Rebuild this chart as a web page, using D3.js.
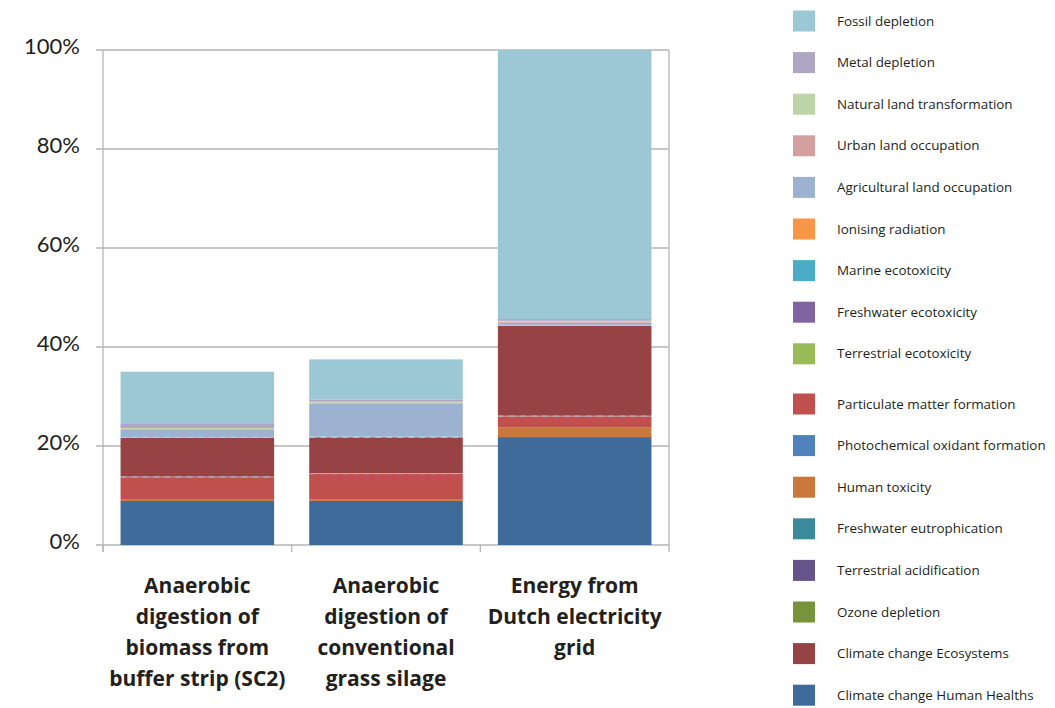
<!DOCTYPE html>
<html>
<head>
<meta charset="utf-8">
<script src="https://cdn.jsdelivr.net/npm/d3@7"></script>
<style>
  html, body { margin: 0; padding: 0; background: #fff; }
  svg { display: block; }
  text { fill: #231f20; }
</style>
</head>
<body>
<svg id="chart" width="1055" height="708"></svg>
<script>
// Scenario categories (multi-line labels)
const categories = [
  ["Anaerobic", "digestion of", "biomass from", "buffer strip (SC2)"],
  ["Anaerobic", "digestion of", "conventional", "grass silage"],
  ["Energy from", "Dutch electricity", "grid"]
];

// Share of total impact (%) per impact category, one value per scenario
const fossilDepletion        = [10.4, 8.1, 54.35];
const metalDepletion         = [0.95, 0.45, 0.35];
const naturalLandTransf      = [0.2, 0.2, 0.2];
const urbanLandOcc           = [0.15, 0.2, 0.2];
const agriculturalLandOcc    = [1.5, 6.7, 0.5];
const ionisingRadiation      = [0, 0, 0];
const marineEcotox           = [0.1, 0.1, 0.1];
const freshwaterEcotox       = [0, 0, 0];
const terrestrialEcotox      = [0, 0, 0];
const particulateMatter      = [4.4, 5.2, 2.2];
const photochemOxidant       = [0, 0, 0];
const humanToxicity          = [0.4, 0.25, 2.0];
const freshwaterEutroph      = [0, 0, 0];
const terrestrialAcid        = [0.1, 0.1, 0.1];
const ozoneDepletion         = [0, 0, 0];
const ccEcosystems           = [7.9, 7.3, 18.2];
const ccHumanHealth          = [8.9, 8.9, 21.8];

const yTicks = [0, 20, 40, 60, 80, 100];

// Legend order (top to bottom)
const series = [
  { name: "Fossil depletion",                values: fossilDepletion,     color: "#9cc8d6" },
  { name: "Metal depletion",                 values: metalDepletion,      color: "#ada6c5" },
  { name: "Natural land transformation",     values: naturalLandTransf,   color: "#bcd4a7" },
  { name: "Urban land occupation",           values: urbanLandOcc,        color: "#d4a09f" },
  { name: "Agricultural land occupation",    values: agriculturalLandOcc, color: "#9db2d0" },
  { name: "Ionising radiation",              values: ionisingRadiation,   color: "#f79646" },
  { name: "Marine ecotoxicity",              values: marineEcotox,        color: "#4bacc6" },
  { name: "Freshwater ecotoxicity",          values: freshwaterEcotox,    color: "#8064a2" },
  { name: "Terrestrial ecotoxicity",         values: terrestrialEcotox,   color: "#9bbb59" },
  { name: "Particulate matter formation",    values: particulateMatter,   color: "#c0504d" },
  { name: "Photochemical oxidant formation", values: photochemOxidant,    color: "#4f81bd" },
  { name: "Human toxicity",                  values: humanToxicity,       color: "#c9793c" },
  { name: "Freshwater eutrophication",       values: freshwaterEutroph,   color: "#3a8a9c" },
  { name: "Terrestrial acidification",       values: terrestrialAcid,     color: "#64548a" },
  { name: "Ozone depletion",                 values: ozoneDepletion,      color: "#77933c" },
  { name: "Climate change Ecosystems",       values: ccEcosystems,        color: "#974345" },
  { name: "Climate change Human Healths",    values: ccHumanHealth,       color: "#3f6b9b" }
];

// Stacking order, bottom to top
const stackOrder = [
  "Climate change Human Healths", "Ozone depletion", "Freshwater eutrophication",
  "Human toxicity", "Photochemical oxidant formation", "Particulate matter formation",
  "Terrestrial acidification", "Climate change Ecosystems", "Marine ecotoxicity",
  "Freshwater ecotoxicity", "Terrestrial ecotoxicity", "Ionising radiation",
  "Agricultural land occupation", "Urban land occupation", "Natural land transformation",
  "Metal depletion", "Fossil depletion"
];

const svg = d3.select("#chart");
const plot = { left: 103, right: 669, top: 50, bottom: 545 };

const x = d3.scaleBand().domain(d3.range(categories.length))
  .range([plot.left, plot.right]).padding(0);
const barW = x.bandwidth() * 0.814;
const y = d3.scaleLinear().domain([0, 100]).range([plot.bottom, plot.top]);

const gridColor = "#b5b5b5";

// Horizontal grid lines with outer ticks
svg.append("g").selectAll("line").data(yTicks).join("line")
  .attr("x1", plot.left - 7).attr("x2", plot.right)
  .attr("y1", d => y(d)).attr("y2", d => y(d))
  .attr("stroke", gridColor).attr("stroke-width", 1.3);

// Y tick labels
svg.append("g").selectAll("text").data(yTicks).join("text")
  .attr("x", 80).attr("y", d => y(d) - 4)
  .attr("dy", "0.35em")
  .attr("text-anchor", "end")
  .style("font-family", "Lato, 'Open Sans', sans-serif")
  .style("font-size", "22px")
  .text(d => d + "%");

// Left axis line
svg.append("line").attr("x1", plot.left).attr("x2", plot.left)
  .attr("y1", plot.top).attr("y2", plot.bottom + 7)
  .attr("stroke", gridColor).attr("stroke-width", 1.3);
// Category boundary ticks (the last one also closes the frame on the right)
const bounds = d3.range(categories.length + 1).map(i => plot.left + i * x.step());
svg.append("g").selectAll("line").data(bounds).join("line")
  .attr("x1", d => d).attr("x2", d => d)
  .attr("y1", (d, i) => i === bounds.length - 1 ? plot.top : plot.bottom)
  .attr("y2", plot.bottom + 7)
  .attr("stroke", gridColor).attr("stroke-width", 1.3);

// Stacked bars
const byName = new Map(series.map(s => [s.name, s]));
const segs = [];
categories.forEach((c, i) => {
  let acc = 0;
  stackOrder.forEach(n => {
    const s = byName.get(n);
    const v = s.values[i];
    if (v > 0) segs.push({ i, y0: acc, y1: acc + v, v, color: s.color });
    acc += v;
  });
});

const bars = svg.append("g");
bars.selectAll("rect").data(segs.filter(d => d.v > 0.12)).join("rect")
  .attr("x", d => x(d.i) + (x.bandwidth() - barW) / 2)
  .attr("width", barW)
  .attr("y", d => y(d.y1))
  .attr("height", d => y(d.y0) - y(d.y1))
  .attr("fill", d => d.color);

// Hairline segments drawn as dashed lines
bars.selectAll("line.thin").data(segs.filter(d => d.v <= 0.12)).join("line")
  .attr("class", "thin")
  .attr("x1", d => x(d.i) + (x.bandwidth() - barW) / 2)
  .attr("x2", d => x(d.i) + (x.bandwidth() + barW) / 2)
  .attr("y1", d => y((d.y0 + d.y1) / 2)).attr("y2", d => y((d.y0 + d.y1) / 2))
  .attr("stroke", d => d3.interpolateRgb(d.color, "#ffffff")(0.5))
  .attr("stroke-width", 1.3)
  .attr("stroke-dasharray", "6,5");

// Category labels
const catG = svg.append("g");
categories.forEach((lines, i) => {
  const t = catG.append("text")
    .attr("text-anchor", "middle")
    .style("font-family", "'Open Sans', Lato, sans-serif")
    .style("font-size", "21px")
    .style("font-weight", "bold");
  lines.forEach((l, k) => {
    t.append("tspan").attr("x", x(i) + x.bandwidth() / 2)
      .attr("y", 593 + k * 31).text(l);
  });
});

// Legend
const legend = svg.append("g");
series.forEach((s, k) => {
  const cy = k < 9 ? 21 + k * 41.6 : 404 + (k - 9) * 41.6;
  legend.append("rect").attr("x", 793).attr("y", cy - 10.5)
    .attr("width", 22).attr("height", 21).attr("fill", s.color);
  legend.append("text").attr("x", 837).attr("y", cy).attr("dy", "0.35em")
    .style("font-family", "'Open Sans', Lato, sans-serif")
    .style("font-size", "13.4px")
    .text(s.name);
});
</script>
</body>
</html>
